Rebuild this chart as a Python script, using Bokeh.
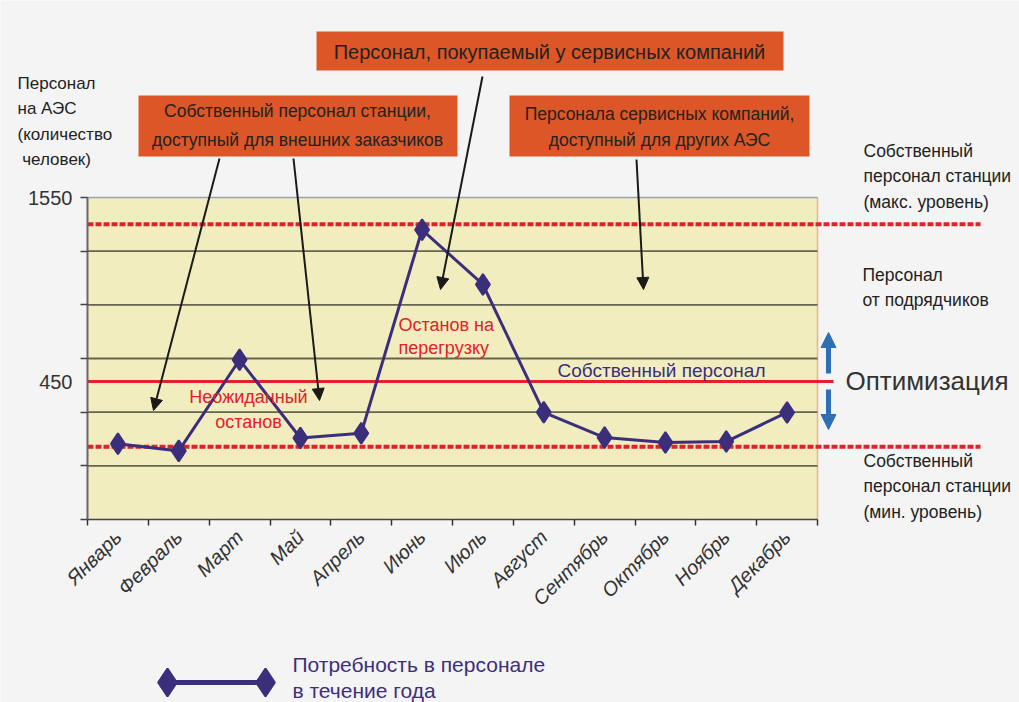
import numpy as np
from bokeh.plotting import figure
from bokeh.models import Range1d, LinearAxis, FixedTicker, Label, Arrow, NormalHead
from bokeh.embed import file_html
from bokeh.resources import INLINE

# ---- data ----
months = ["Январь", "Февраль", "Март", "Май", "Апрель", "Июнь",
          "Июль", "Август", "Сентябрь", "Октябрь", "Ноябрь", "Декабрь"]
staff_demand = [78, 35, 580, 112, 141, 1357, 1030, 266, 115, 85, 91, 265]
own_staff_level = 450
station_staff_max = 1390
station_staff_min = 60
axis_top = 1550
axis_bottom = -375
axis_labels = [450, 1550]

# ---- layout (page pixels) ----
W, H = 1019, 702
BOX_L, BOX_R, BOX_T, BOX_B = 87, 817, 197, 519
n = len(months)
sx = (BOX_R - BOX_L) / n
sy = (BOX_B - BOX_T) / (axis_top - axis_bottom)


def X(px):
    return (px - BOX_L) / sx


def Y(py):
    return axis_bottom + (BOX_B - py) / sy


FONT = "Liberation Sans"
BG = "#f4f4f4"
YELLOW = "#f2edbf"
ORANGE = "#dd5627"
RED = "#e3202b"
PURPLE = "#3b2f7c"
BLUE = "#2f6fb6"
INK = "#222222"

p = figure(width=W, height=H, output_backend="svg", toolbar_location=None,
           x_range=Range1d(X(0), X(W)), y_range=Range1d(Y(H), Y(0)),
           x_axis_type=None, y_axis_type=None, min_border=0,
           background_fill_color=BG, border_fill_color=BG, outline_line_color=None)

# plot area
p.quad(left=0, right=n, bottom=axis_bottom, top=axis_top,
       fill_color=YELLOW, line_color=None)
p.line([n, n], [axis_bottom, axis_top], line_color="#efb47c", line_width=1.5)
p.line([0, n], [axis_top, axis_top], line_color="#9aa3b5", line_width=1.5)

grid_levels = np.linspace(axis_bottom, axis_top, 7)
inner = grid_levels[1:-1]
p.segment(x0=[0] * len(inner), x1=[n] * len(inner), y0=inner, y1=inner,
          line_color="#66644f", line_width=1.8)

# axes
centers = [i + 0.5 for i in range(n)]
xaxis = LinearAxis(fixed_location=axis_bottom, bounds=(0, n),
                   ticker=FixedTicker(ticks=centers, minor_ticks=list(range(n + 1))),
                   major_label_overrides={c: m for c, m in zip(centers, months)})
xaxis.major_tick_in = 0
xaxis.major_tick_out = 0
xaxis.minor_tick_in = 0
xaxis.minor_tick_out = 6
xaxis.minor_tick_line_color = "#333333"
xaxis.minor_tick_line_width = 1.5
xaxis.axis_line_color = "#444444"
xaxis.axis_line_width = 1.5
xaxis.major_label_orientation = np.pi / 4
xaxis.major_label_standoff = 8
xaxis.major_label_text_font = FONT
xaxis.major_label_text_font_size = "20px"
xaxis.major_label_text_font_style = "italic"
xaxis.major_label_text_color = "#333333"
p.add_layout(xaxis, "below")

yaxis = LinearAxis(fixed_location=0, bounds=(axis_bottom, axis_top),
                   ticker=FixedTicker(ticks=axis_labels, minor_ticks=list(grid_levels)))
yaxis.major_tick_in = 0
yaxis.major_tick_out = 0
yaxis.minor_tick_in = 0
yaxis.minor_tick_out = 7
yaxis.minor_tick_line_color = "#444444"
yaxis.minor_tick_line_width = 1.5
yaxis.axis_line_color = "#666666"
yaxis.axis_line_width = 2
yaxis.major_label_standoff = 8
yaxis.major_label_text_font = FONT
yaxis.major_label_text_font_size = "20px"
yaxis.major_label_text_color = "#333333"
p.add_layout(yaxis, "left")

# staffing levels
p.line([0, X(980)], [station_staff_max] * 2, line_color=RED, line_width=4, line_dash="6 2")
p.line([0, X(980)], [station_staff_min] * 2, line_color=RED, line_width=4, line_dash="6 2")
p.line([0, X(833)], [own_staff_level] * 2, line_color=RED, line_width=3)

# demand over the year
p.line(centers, staff_demand, line_color=PURPLE, line_width=3)
p.scatter(centers, staff_demand, marker="diamond", size=21,
          fill_color=PURPLE, line_color=PURPLE, line_width=2)

# callout boxes
for l, r, t, b in [(316, 783, 31, 70), (138, 457, 95, 156), (509, 809, 95, 156)]:
    p.quad(left=X(l), right=X(r), top=Y(t), bottom=Y(b), fill_color=ORANGE, line_color=None)


def text(px, py, s, size, color=INK, align="left", lh=1.2, style="normal"):
    p.add_layout(Label(x=X(px), y=Y(py), text=s, text_font=FONT,
                       text_font_size=f"{size}px", text_color=color,
                       text_align=align, text_baseline="middle",
                       text_line_height=lh, text_font_style=style))


text(549, 51, "Персонал, покупаемый у сервисных компаний", 20, align="center")
text(297, 125, "Собственный персонал станции,\nдоступный для внешних заказчиков", 17.5,
     align="center", lh=1.43)
text(659, 126, "Персонала сервисных компаний,\nдоступный для других АЭС", 17.5,
     align="center", lh=1.3)

text(17, 121, "Персонал\nна АЭС\n(количество\n\u00a0человек)", 17, lh=1.33)

text(248, 409, "Неожиданный\nостанов", 18, color=RED, align="center", lh=1.28)
text(398, 336, "Останов на\nперегрузку", 18, color=RED, lh=1.17)
text(557, 370, "Собственный персонал", 19, color=PURPLE)

text(863, 176, "Собственный\nперсонал станции\n(макс. уровень)", 17.5, lh=1.29)
text(862, 287, "Персонал\nот подрядчиков", 17.5, lh=1.26)
text(845, 380, "Оптимизация", 26, color="#333333")
text(863, 486, "Собственный\nперсонал станции\n(мин. уровень)", 17.5, lh=1.29)

# pointer arrows
for x0, y0, x1, y1 in [(219, 158, 153, 410), (293, 158, 319, 400),
                       (482, 76, 440, 289), (636, 159, 643, 289)]:
    p.add_layout(Arrow(x_start=X(x0), y_start=Y(y0), x_end=X(x1), y_end=Y(y1),
                       line_color="#1a1a1a", line_width=2,
                       end=NormalHead(size=12, fill_color="#1a1a1a", line_color="#1a1a1a")))

# optimisation arrows
for y0, y1 in [(373, 332), (389, 429)]:
    p.add_layout(Arrow(x_start=X(828), y_start=Y(y0), x_end=X(828), y_end=Y(y1),
                       line_color=BLUE, line_width=5,
                       end=NormalHead(size=15, fill_color=BLUE, line_color=BLUE)))

# legend
p.line([X(167), X(265)], [Y(682)] * 2, line_color=PURPLE, line_width=5)
p.scatter([X(167), X(265)], [Y(682)] * 2, marker="diamond", size=28,
          fill_color=PURPLE, line_color=PURPLE, line_width=2)
text(292, 677, "Потребность в персонале\nв течение года", 21, color=PURPLE, lh=1.12)

open("out.html", "w").write(file_html(p, INLINE))
